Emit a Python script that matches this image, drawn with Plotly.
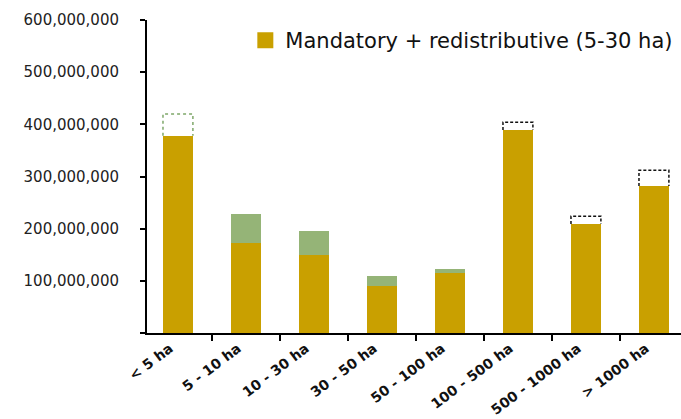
import plotly.graph_objects as go

categories = ["< 5 ha", "5 - 10 ha", "10 - 30 ha", "30 - 50 ha", "50 - 100 ha",
              "100 - 500 ha", "500 - 1000 ha", "> 1000 ha"]
mandatory_redistributive = [378e6, 172e6, 149e6, 90e6, 115e6, 389e6, 209e6, 282e6]
increase = [0, 56e6, 46e6, 19e6, 8e6, 0, 0, 0]
decrease = [42e6, 0, 0, 0, 0, 15e6, 15e6, 30e6]
decrease_colors = ["#7fa86a", None, None, None, None, "#111111", "#111111", "#111111"]
y_ticks = [0, 100e6, 200e6, 300e6, 400e6, 500e6, 600e6]
y_tick_labels = ["", "100,000,000", "200,000,000", "300,000,000", "400,000,000",
                 "500,000,000", "600,000,000"]

GOLD = "#c9a000"
GREEN = "#95b477"
FONT = "DejaVu Sans"

fig = go.Figure()
fig.add_trace(go.Bar(x=categories, y=mandatory_redistributive, marker_color=GOLD,
                     marker_line_width=0, width=0.44, showlegend=False))
fig.add_trace(go.Bar(x=categories, y=increase, marker_color=GREEN,
                     marker_line_width=0, width=0.44, showlegend=False))

# dashed outlines for decreases
hw = 0.22
for i, (c, base, d, col) in enumerate(zip(categories, mandatory_redistributive, decrease, decrease_colors)):
    if d <= 0:
        continue
    top = base + d
    xs = [i - hw, i - hw, i + hw, i + hw]
    ys = [base, top, top, base]
    fig.add_trace(go.Scatter(x=xs, y=ys, mode="lines", xaxis="x2",
                             line=dict(color=col, width=1.5, dash="dot" if i == 0 else "3px,2px"),
                             showlegend=False, hoverinfo="skip"))

fig.add_trace(go.Scatter(x=[None], y=[None], mode="markers",
                         marker=dict(symbol="square", size=16, color=GOLD),
                         name="Mandatory + redistributive (5-30 ha)"))

xr = [-0.455, 7.398]
fig.update_layout(
    width=681, height=419,
    margin=dict(l=147, r=0, t=20, b=86, autoexpand=False),
    barmode="stack", bargap=0.56,
    plot_bgcolor="white", paper_bgcolor="white",
    font=dict(family=FONT, color="#222222"),
    showlegend=True,
    legend=dict(x=0.995, xanchor="right", y=1.0, yanchor="top",
                font=dict(size=21, family=FONT, color="#111111"),
                bgcolor="rgba(0,0,0,0)", itemsizing="trace", itemwidth=30),
    xaxis=dict(range=xr, showline=True, linecolor="black", linewidth=2,
               ticks="outside", tickson="boundaries", ticklen=6, tickwidth=2, tickcolor="black",
               tickangle=-37, ticklabelshift=-8,
               tickfont=dict(size=14, family=FONT, color="#111111", weight="bold"),
               showgrid=False, fixedrange=True, automargin=False),
    xaxis2=dict(range=xr, overlaying="x", visible=False),
    yaxis=dict(range=[0, 600e6], tickvals=y_ticks, ticktext=y_tick_labels, showline=True,
               linecolor="black", linewidth=2, ticks="outside", ticklen=5, tickwidth=2,
               tickcolor="black", showgrid=False, zeroline=False, automargin=False,
               ticklabelstandoff=18,
               tickfont=dict(size=15, family=FONT, color="#222222")),
)
fig.write_html("out.html", config={"displayModeBar": False},
               post_script="document.body.style.margin='0';")
